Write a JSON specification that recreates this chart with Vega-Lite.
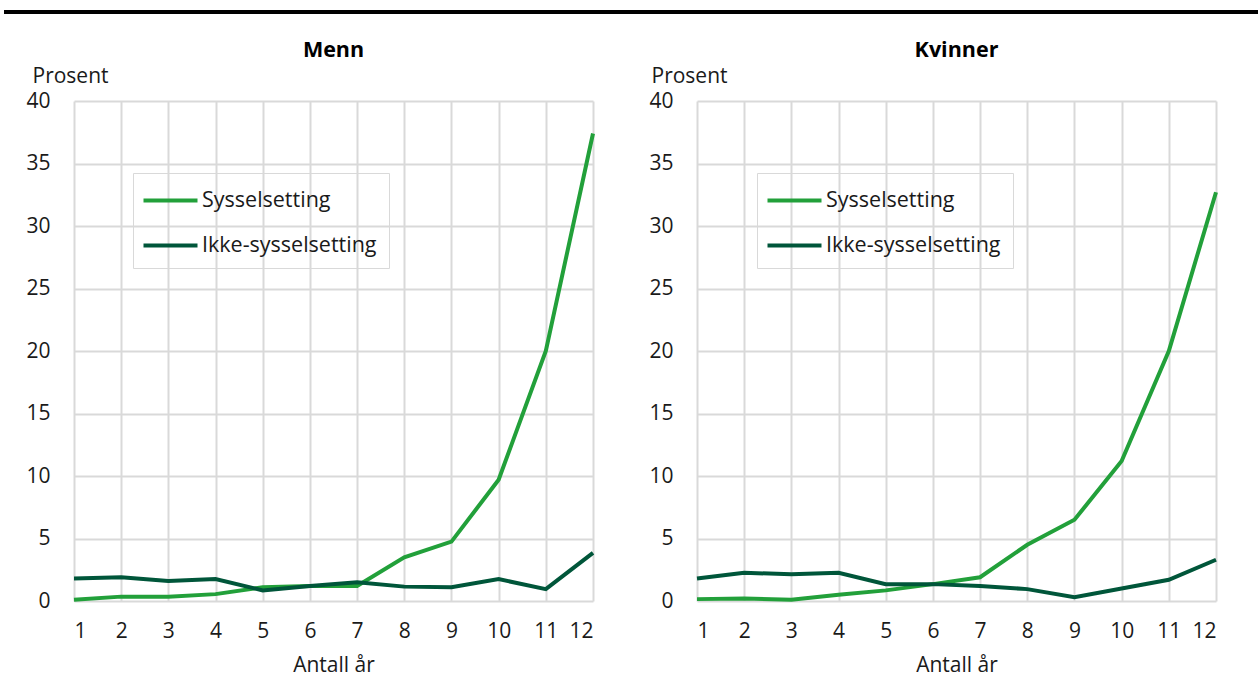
{
  "$schema": "https://vega.github.io/schema/vega-lite/v6.json",
  "padding": {"left": 4, "top": 10, "right": 0, "bottom": 0},
  "background": "white",
  "config": {
    "font": "Open Sans",
    "view": {"stroke": null},
    "axis": {
      "gridColor": "#d9d9d9",
      "gridWidth": 2,
      "domain": false,
      "ticks": false,
      "labelFont": "Open Sans",
      "labelFontSize": 21,
      "labelColor": "#1a1a1a",
      "titleFont": "Open Sans",
      "titleFontSize": 21,
      "titleFontWeight": "normal",
      "titleColor": "#1a1a1a"
    },
    "title": {"font": "Open Sans", "fontSize": 21.5, "fontWeight": "bold", "color": "#000000"},
    "legend": {
      "labelFont": "Open Sans",
      "labelFontSize": 21.5,
      "labelColor": "#1a1a1a",
      "labelLimit": 400
    },
    "concat": {"spacing": 47}
  },
  "datasets": {
    "menn": [
      {"aar": 1, "serie": "Sysselsetting", "prosent": 0.1},
      {"aar": 2, "serie": "Sysselsetting", "prosent": 0.35},
      {"aar": 3, "serie": "Sysselsetting", "prosent": 0.35},
      {"aar": 4, "serie": "Sysselsetting", "prosent": 0.55},
      {"aar": 5, "serie": "Sysselsetting", "prosent": 1.1},
      {"aar": 6, "serie": "Sysselsetting", "prosent": 1.2},
      {"aar": 7, "serie": "Sysselsetting", "prosent": 1.2},
      {"aar": 8, "serie": "Sysselsetting", "prosent": 3.5},
      {"aar": 9, "serie": "Sysselsetting", "prosent": 4.75},
      {"aar": 10, "serie": "Sysselsetting", "prosent": 9.7},
      {"aar": 11, "serie": "Sysselsetting", "prosent": 20.0},
      {"aar": 12, "serie": "Sysselsetting", "prosent": 37.4},
      {"aar": 1, "serie": "Ikke-sysselsetting", "prosent": 1.8},
      {"aar": 2, "serie": "Ikke-sysselsetting", "prosent": 1.9},
      {"aar": 3, "serie": "Ikke-sysselsetting", "prosent": 1.6},
      {"aar": 4, "serie": "Ikke-sysselsetting", "prosent": 1.75},
      {"aar": 5, "serie": "Ikke-sysselsetting", "prosent": 0.85},
      {"aar": 6, "serie": "Ikke-sysselsetting", "prosent": 1.2},
      {"aar": 7, "serie": "Ikke-sysselsetting", "prosent": 1.5},
      {"aar": 8, "serie": "Ikke-sysselsetting", "prosent": 1.15},
      {"aar": 9, "serie": "Ikke-sysselsetting", "prosent": 1.1},
      {"aar": 10, "serie": "Ikke-sysselsetting", "prosent": 1.75},
      {"aar": 11, "serie": "Ikke-sysselsetting", "prosent": 0.95},
      {"aar": 12, "serie": "Ikke-sysselsetting", "prosent": 3.85}
    ],
    "kvinner": [
      {"aar": 1, "serie": "Sysselsetting", "prosent": 0.15},
      {"aar": 2, "serie": "Sysselsetting", "prosent": 0.2},
      {"aar": 3, "serie": "Sysselsetting", "prosent": 0.1},
      {"aar": 4, "serie": "Sysselsetting", "prosent": 0.5},
      {"aar": 5, "serie": "Sysselsetting", "prosent": 0.85},
      {"aar": 6, "serie": "Sysselsetting", "prosent": 1.35},
      {"aar": 7, "serie": "Sysselsetting", "prosent": 1.9},
      {"aar": 8, "serie": "Sysselsetting", "prosent": 4.5},
      {"aar": 9, "serie": "Sysselsetting", "prosent": 6.5},
      {"aar": 10, "serie": "Sysselsetting", "prosent": 11.2},
      {"aar": 11, "serie": "Sysselsetting", "prosent": 20.0},
      {"aar": 12, "serie": "Sysselsetting", "prosent": 32.7},
      {"aar": 1, "serie": "Ikke-sysselsetting", "prosent": 1.8},
      {"aar": 2, "serie": "Ikke-sysselsetting", "prosent": 2.25},
      {"aar": 3, "serie": "Ikke-sysselsetting", "prosent": 2.15},
      {"aar": 4, "serie": "Ikke-sysselsetting", "prosent": 2.25},
      {"aar": 5, "serie": "Ikke-sysselsetting", "prosent": 1.35},
      {"aar": 6, "serie": "Ikke-sysselsetting", "prosent": 1.35},
      {"aar": 7, "serie": "Ikke-sysselsetting", "prosent": 1.2},
      {"aar": 8, "serie": "Ikke-sysselsetting", "prosent": 0.95},
      {"aar": 9, "serie": "Ikke-sysselsetting", "prosent": 0.3},
      {"aar": 10, "serie": "Ikke-sysselsetting", "prosent": 1.0},
      {"aar": 11, "serie": "Ikke-sysselsetting", "prosent": 1.7},
      {"aar": 12, "serie": "Ikke-sysselsetting", "prosent": 3.3}
    ],
    "bar": [{"k": 1}]
  },
  "vconcat": [
    {
      "width": 1290,
      "height": 4,
      "data": {"name": "bar"},
      "view": {"fill": "black", "stroke": null},
      "mark": {"type": "rect", "color": "black"},
      "encoding": {}
    },
    {
      "hconcat": [
        {
          "title": {"text": "Menn", "offset": 4},
          "width": 519,
          "height": 500,
          "data": {"name": "menn"},
          "mark": {"type": "line", "strokeWidth": 4},
          "encoding": {
            "x": {
              "field": "aar", "type": "quantitative",
              "scale": {"domain": [1, 12], "nice": false},
              "axis": {"values": [1,2,3,4,5,6,7,8,9,10,11,12], "title": "Antall år", "labelPadding": 19, "titlePadding": 13}
            },
            "y": {
              "field": "prosent", "type": "quantitative",
              "scale": {"domain": [0, 40], "nice": false},
              "axis": {"values": [0,5,10,15,20,25,30,35,40], "title": "Prosent", "labelPadding": 24,
                       "titleAngle": 0, "titleAlign": "left", "titleBaseline": "middle", "titleX": -42, "titleY": -25}
            },
            "color": {
              "field": "serie", "type": "nominal",
              "scale": {"domain": ["Sysselsetting", "Ikke-sysselsetting"], "range": ["#22a03a", "#00563a"]},
              "legend": {
                "title": null, "orient": "none", "legendX": 59, "legendY": 72,
                "symbolType": "M-2,0H2", "symbolSize": 729, "symbolStrokeWidth": 4,
                "symbolOffset": 10, "labelOffset": 16,
                "strokeColor": "#d9d9d9", "padding": 12, "rowPadding": 19
              }
            }
          }
        },
        {
          "title": {"text": "Kvinner", "offset": 4},
          "width": 519,
          "height": 500,
          "data": {"name": "kvinner"},
          "mark": {"type": "line", "strokeWidth": 4},
          "encoding": {
            "x": {
              "field": "aar", "type": "quantitative",
              "scale": {"domain": [1, 12], "nice": false},
              "axis": {"values": [1,2,3,4,5,6,7,8,9,10,11,12], "title": "Antall år", "labelPadding": 19, "titlePadding": 13}
            },
            "y": {
              "field": "prosent", "type": "quantitative",
              "scale": {"domain": [0, 40], "nice": false},
              "axis": {"values": [0,5,10,15,20,25,30,35,40], "title": "Prosent", "labelPadding": 24,
                       "titleAngle": 0, "titleAlign": "left", "titleBaseline": "middle", "titleX": -46, "titleY": -25}
            },
            "color": {
              "field": "serie", "type": "nominal",
              "scale": {"domain": ["Sysselsetting", "Ikke-sysselsetting"], "range": ["#22a03a", "#00563a"]},
              "legend": {
                "title": null, "orient": "none", "legendX": 60, "legendY": 72,
                "symbolType": "M-2,0H2", "symbolSize": 729, "symbolStrokeWidth": 4,
                "symbolOffset": 10, "labelOffset": 16,
                "strokeColor": "#d9d9d9", "padding": 12, "rowPadding": 19
              }
            }
          }
        }
      ],
      "resolve": {"scale": {"color": "independent"}}
    }
  ],
  "spacing": 25,
  "center": true
}
